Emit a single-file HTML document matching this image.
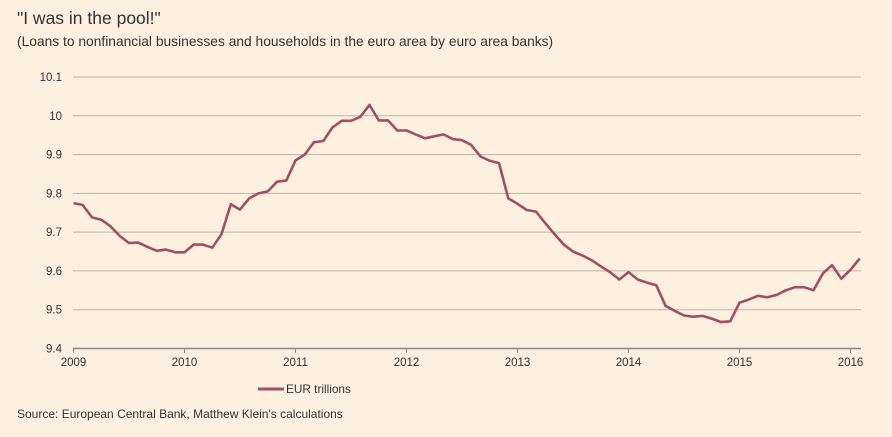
<!DOCTYPE html>
<html><head><meta charset="utf-8"><style>
body{margin:0;background:#fdf0e1;}
svg{display:block;font-family:"Liberation Sans",sans-serif;}
</style></head><body>
<svg id="chart" width="892" height="437">
<rect width="892" height="437" fill="#fdf0e1"/>
<text x="17" y="24" font-size="17.5" fill="#333">"I was in the pool!"</text>
<text x="17" y="46" font-size="13.8" fill="#333">(Loans to nonfinancial businesses and households in the euro area by euro area banks)</text>
<g id="grid"></g><g id="xaxis"></g>
<path id="line" fill="none" stroke="#a14f63" stroke-width="2.6" stroke-linejoin="round"/>
<line x1="258" y1="389" x2="284" y2="389" stroke="#a14f63" stroke-width="3"/>
<text x="286" y="393" font-size="11.8" fill="#333">EUR trillions</text>
<text x="17" y="418" font-size="12" fill="#333">Source: European Central Bank, Matthew Klein's calculations</text>
</svg>
<script>
const yTicks=[9.4,9.5,9.6,9.7,9.8,9.9,10,10.1];
const yTickLabels=["9.4","9.5","9.6","9.7","9.8","9.9","10","10.1"];
const xYears=[2009,2010,2011,2012,2013,2014,2015,2016];
const startYear=2009;
const values=[
9.775,9.77,9.738,9.732,9.715,9.69,9.672,9.673,9.662,9.652,9.655,9.648,
9.648,9.668,9.668,9.66,9.695,9.772,9.758,9.787,9.8,9.805,9.83,9.833,
9.885,9.9,9.932,9.935,9.97,9.987,9.987,9.997,10.028,9.988,9.988,9.962,
9.962,9.952,9.942,9.947,9.952,9.94,9.937,9.925,9.895,9.884,9.878,9.787,
9.773,9.757,9.753,9.723,9.695,9.668,9.65,9.64,9.628,9.612,9.597,9.578,
9.597,9.578,9.570,9.563,9.51,9.497,9.485,9.482,9.484,9.477,9.468,9.470,
9.518,9.526,9.536,9.532,9.538,9.55,9.558,9.558,9.55,9.593,9.615,9.58,
9.603,9.632];
const NS="http://www.w3.org/2000/svg";
const x=t=>73.5+(t-2009)*111;
const y=v=>348.5-(v-9.4)/0.7*271.5;
const grid=document.getElementById('grid');
yTicks.forEach((v,i)=>{
 if(i>0){const l=document.createElementNS(NS,'line');
 l.setAttribute('x1',73);l.setAttribute('x2',861);l.setAttribute('y1',y(v));l.setAttribute('y2',y(v));
 l.setAttribute('stroke','#bcb3aa');l.setAttribute('stroke-width','1');
 
 
 grid.appendChild(l);}
 const t=document.createElementNS(NS,'text');
 t.setAttribute('x',62);t.setAttribute('y',y(v)+4);t.setAttribute('text-anchor','end');t.setAttribute('font-size','11.5');t.setAttribute('fill','#333');
 t.textContent=yTickLabels[i];
 
 
 grid.appendChild(t);
});
const xa=document.getElementById('xaxis');
const ax=document.createElementNS(NS,'line');
ax.setAttribute('x1',73);ax.setAttribute('x2',861);ax.setAttribute('y1',348.5);ax.setAttribute('y2',348.5);ax.setAttribute('stroke','#8a8580');ax.setAttribute('stroke-width','1.5');


xa.appendChild(ax);
xYears.forEach(yr=>{
 const tk=document.createElementNS(NS,'line');
 tk.setAttribute('x1',x(yr));tk.setAttribute('x2',x(yr));tk.setAttribute('y1',348);tk.setAttribute('y2',353);tk.setAttribute('stroke','#8a8580');
 
 
 xa.appendChild(tk);
 const t=document.createElementNS(NS,'text');
 t.setAttribute('x',x(yr));t.setAttribute('y',366);t.setAttribute('text-anchor','middle');t.setAttribute('font-size','11.5');t.setAttribute('fill','#333');
 t.textContent=yr;
 
 
 xa.appendChild(t);
});
document.getElementById('line').setAttribute('d',values.map((v,i)=>(i?'L':'M')+x(startYear+i/12).toFixed(1)+','+y(v).toFixed(1)).join(''));
</script>
</body></html>
